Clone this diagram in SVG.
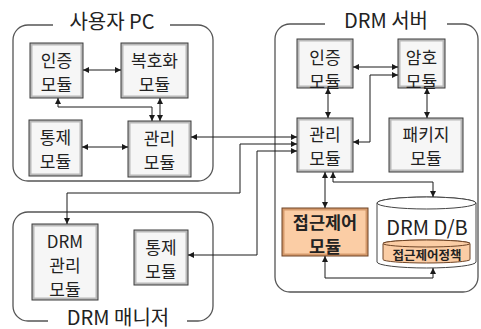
<svg xmlns="http://www.w3.org/2000/svg" width="481" height="329" viewBox="0 0 481 329">
<defs>
<marker id="ah" viewBox="0 0 6 6" refX="6" refY="3" markerWidth="6" markerHeight="6" markerUnits="userSpaceOnUse" orient="auto-start-reverse">
<path d="M0,0 L6,3 L0,6 z" fill="#1a1a1a"/>
</marker>
</defs>
<style>
.cont{fill:none;stroke:#555;stroke-width:1.3}
.title{font-family:"Noto Sans CJK KR","Noto Sans",sans-serif;font-size:20px;fill:#222;text-anchor:middle;dominant-baseline:central}
.bo{fill:#b9b9b9;stroke:#3c3c3c;stroke-width:1}
.bi{fill:#f6f6f6;stroke:none}
.oo{fill:#d59a6c;stroke:#6e4426;stroke-width:1}
.oi{fill:#fbcda5;stroke:none}
.t{font-family:"Noto Sans CJK KR","Noto Sans",sans-serif;font-size:17px;fill:#222;text-anchor:middle;dominant-baseline:central}
.tb{font-weight:bold}
.c{fill:none;stroke:#1a1a1a;stroke-width:1;marker-start:url(#ah);marker-end:url(#ah)}
.db{fill:#fff;stroke:#444;stroke-width:1}
.dbi{fill:#fbcda5;stroke:#6e4426;stroke-width:1}
</style>

<g id="userpc">
<path class="cont" d="M53 25 H28 A15 15 0 0 0 13 40 V166 A15 15 0 0 0 28 181 H198 A15 15 0 0 0 213 166 V40 A15 15 0 0 0 198 25 H170"/>
<text class="title" x="112" y="20">사용자 PC</text>
</g>
<g id="pc-auth">
<rect class="bo" x="30" y="43" width="53" height="55"/><rect class="bi" x="32.5" y="45.5" width="48" height="50"/>
<text class="t" x="56.5" y="59"><tspan x="56.5" y="59">인증</tspan><tspan x="56.5" y="83">모듈</tspan></text>
</g>
<g id="pc-decrypt">
<rect class="bo" x="121" y="43" width="67" height="55"/><rect class="bi" x="123.5" y="45.5" width="62" height="50"/>
<text class="t" x="154.5" y="59"><tspan x="154.5" y="59">복호화</tspan><tspan x="154.5" y="83">모듈</tspan></text>
</g>
<g id="pc-control">
<rect class="bo" x="29" y="120" width="53" height="56"/><rect class="bi" x="31.5" y="122.5" width="48" height="51"/>
<text class="t" x="55.5" y="136"><tspan x="55.5" y="136">통제</tspan><tspan x="55.5" y="160">모듈</tspan></text>
</g>
<g id="pc-manage">
<rect class="bo" x="128" y="121" width="63" height="56"/><rect class="bi" x="130.5" y="123.5" width="58" height="51"/>
<text class="t" x="159.5" y="137"><tspan x="159.5" y="137">관리</tspan><tspan x="159.5" y="161">모듈</tspan></text>
</g>

<g id="server">
<path class="cont" d="M325 24 H290 A15 15 0 0 0 275 39 V277 A15 15 0 0 0 290 292 H463 A15 15 0 0 0 478 277 V39 A15 15 0 0 0 463 24 H447"/>
<text class="title" x="386" y="19">DRM 서버</text>
</g>
<g id="sv-auth">
<rect class="bo" x="297" y="39" width="56" height="49"/><rect class="bi" x="299.5" y="41.5" width="51" height="44"/>
<text class="t" x="325" y="56"><tspan x="325" y="56">인증</tspan><tspan x="325" y="80">모듈</tspan></text>
</g>
<g id="sv-crypto">
<rect class="bo" x="398" y="39" width="47" height="49"/><rect class="bi" x="400.5" y="41.5" width="42" height="44"/>
<text class="t" x="421.5" y="56"><tspan x="421.5" y="56">암호</tspan><tspan x="421.5" y="80">모듈</tspan></text>
</g>
<g id="sv-manage">
<rect class="bo" x="297" y="118" width="56" height="54"/><rect class="bi" x="299.5" y="120.5" width="51" height="49"/>
<text class="t" x="325" y="133"><tspan x="325" y="133">관리</tspan><tspan x="325" y="157">모듈</tspan></text>
</g>
<g id="sv-package">
<rect class="bo" x="389" y="118" width="74" height="54"/><rect class="bi" x="391.5" y="120.5" width="69" height="49"/>
<text class="t" x="426" y="133"><tspan x="426" y="133">패키지</tspan><tspan x="426" y="157">모듈</tspan></text>
</g>
<g id="sv-access">
<rect class="oo" x="282" y="208" width="86" height="48"/><rect class="oi" x="284.5" y="210.5" width="81" height="43"/>
<text class="t tb" x="325" y="221" style="font-size:17.5px"><tspan x="325" y="221">접근제어</tspan><tspan x="325" y="245">모듈</tspan></text>
</g>
<g id="sv-db">
<path class="db" d="M377 203 A49.5 6 0 0 1 476 203 V262 A49.5 6 0 0 1 377 262 Z"/>
<ellipse class="db" cx="426.5" cy="203" rx="49.5" ry="6"/>
<text class="t" x="427" y="226" style="font-size:20px">DRM D/B</text>
<path class="dbi" d="M383 243.5 A43.5 3.5 0 0 1 470 243.5 V259.5 A43.5 3.5 0 0 1 383 259.5 Z"/>
<ellipse class="dbi" cx="426.5" cy="243.5" rx="43.5" ry="3.5"/>
<text class="t tb" x="427" y="254.5" style="font-size:12.5px">접근제어정책</text>
</g>

<g id="manager">
<path class="cont" d="M48 321 H28 A15 15 0 0 1 13 306 V227 A15 15 0 0 1 28 212 H198 A15 15 0 0 1 213 227 V306 A15 15 0 0 1 198 321 H187"/>
<text class="title" x="118" y="316">DRM 매니저</text>
</g>
<g id="mg-manage">
<rect class="bo" x="32" y="224" width="66" height="76"/><rect class="bi" x="34.5" y="226.5" width="61" height="71"/>
<text class="t" x="65" y="240"><tspan x="65" y="240">DRM</tspan><tspan x="65" y="264">관리</tspan><tspan x="65" y="288">모듈</tspan></text>
</g>
<g id="mg-control">
<rect class="bo" x="134" y="230" width="54" height="55"/><rect class="bi" x="136.5" y="232.5" width="49" height="50"/>
<text class="t" x="161" y="246"><tspan x="161" y="246">통제</tspan><tspan x="161" y="270">모듈</tspan></text>
</g>

<g id="connectors">
<path class="c" d="M83 70 H121"/>
<path class="c" d="M82 147 H128"/>
<path class="c" d="M160 98 V121"/>
<path class="c" d="M58 98 V107 H152 V121"/>
<path class="c" d="M191 137 H297"/>
<path class="c" d="M297 144 H240 V193 H67 V224"/>
<path class="c" d="M297 151 H257 V255 H188"/>
<path class="c" d="M353 67 H398"/>
<path class="c" d="M353 142 H370 V75 H398"/>
<path class="c" d="M328 88 V118"/>
<path class="c" d="M427 88 V118"/>
<path class="c" d="M325 172 V208"/>
<path class="c" d="M333 172 V182 H433 V197"/>
<path class="c" d="M325 256 V278 H433 V268"/>
</g>
</svg>
